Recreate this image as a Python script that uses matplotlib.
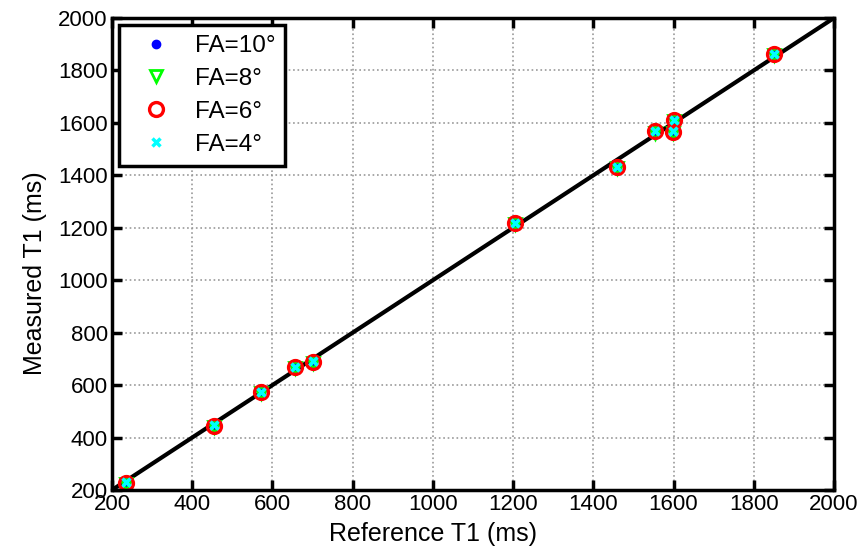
import matplotlib.pyplot as plt
import numpy as np

plt.rcParams['font.family'] = ['Liberation Sans', 'DejaVu Sans']

# reference T1 of each phantom vial (ms)
ref_t1 = np.array([235, 455, 572, 656, 700, 1206, 1460, 1553, 1599, 1600, 1850])

# measured T1 (ms) for each flip angle
meas_fa10 = np.array([228, 445, 573, 668, 690, 1218, 1432, 1568, 1567, 1610, 1863])
meas_fa8 = np.array([224, 441, 569, 664, 686, 1214, 1428, 1563, 1562, 1606, 1858])
meas_fa6 = np.array([228, 445, 573, 668, 690, 1218, 1432, 1568, 1567, 1610, 1863])
meas_fa4 = np.array([229, 446, 574, 669, 691, 1219, 1433, 1569, 1568, 1611, 1864])

fig = plt.figure(figsize=(8.66, 5.47), dpi=100)
ax = fig.add_axes([0.1293, 0.1042, 0.8337, 0.8629])

ax.plot(ref_t1, meas_fa10, 'o', color='#0000ff', markersize=6, label='FA=10°')
ax.plot(ref_t1, meas_fa8, 'v', color='#00ff00', markersize=8, markerfacecolor='none',
        markeredgewidth=2, label='FA=8°')
ax.plot(ref_t1, meas_fa6, 'o', color='#ff0000', markersize=10, markerfacecolor='none',
        markeredgewidth=2.4, label='FA=6°')
ax.plot(ref_t1, meas_fa4, 'x', color='#00ffff', markersize=6, markeredgewidth=2.5,
        label='FA=4°')

# identity line
ax.plot([200, 2000], [200, 2000], color='black', linewidth=3, zorder=1)

ax.set_xlim(200, 2000)
ax.set_ylim(200, 2000)
ax.set_xticks(np.arange(200, 2001, 200))
ax.set_yticks(np.arange(200, 2001, 200))
ax.grid(True, linestyle=':', color='#999999', linewidth=1.2)
ax.set_axisbelow(True)

for s in ax.spines.values():
    s.set_linewidth(2.5)
ax.tick_params(direction='in', length=7, width=2.5, top=True, right=True,
               labelsize=16, pad=3)

ax.set_xlabel('Reference T1 (ms)', fontsize=18, va='bottom')
ax.xaxis.set_label_coords(0.5, 1 / 547, transform=fig.transFigure)
ax.set_ylabel('Measured T1 (ms)', fontsize=18)
ax.yaxis.set_label_coords(47 / 866, 0.5, transform=fig.transFigure)

leg = ax.legend(loc='upper left', fontsize=17.5, fancybox=False, framealpha=1,
                edgecolor='black', borderpad=0.4, labelspacing=0.45,
                handlelength=2.2, handletextpad=0.5, borderaxespad=0.3)
leg.get_frame().set_linewidth(2.5)

fig.savefig('out.png', dpi=100)
